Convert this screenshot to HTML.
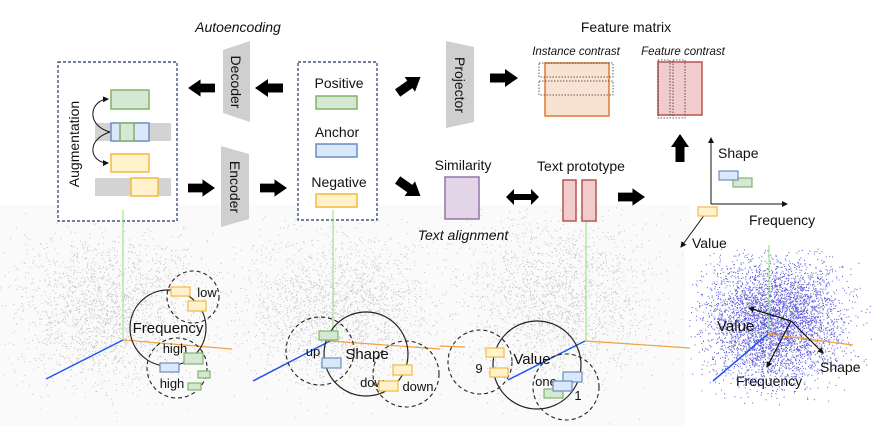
<!DOCTYPE html>
<html><head><meta charset="utf-8"><style>
html,body{margin:0;padding:0;background:#fff;}
svg{display:block;}
text{font-family:"Liberation Sans",sans-serif;fill:#111;}
.it{font-style:italic;}
</style></head><body>
<svg id="s" width="873" height="426" viewBox="0 0 873 426" xmlns="http://www.w3.org/2000/svg">
<defs>
<marker id="ah2" markerWidth="6" markerHeight="6" refX="5" refY="3" orient="auto" markerUnits="userSpaceOnUse"><path d="M0,0 L6,3 L0,6 z" fill="#111"/></marker>
<symbol id="bar" viewBox="0 0 28 18"><path d="M0,4.5 H15 V0 L28,9 L15,18 V13.5 H0 z" fill="#000"/></symbol>
</defs>
<rect x="0" y="205" width="690" height="221" fill="#fafafa"/>
<g id="dots"></g>
<rect x="685" y="245" width="188" height="181" fill="#fff"/>
<g id="bdots"></g>

<text x="238" y="32" font-size="14" text-anchor="middle" class="it">Autoencoding</text>
<rect x="58" y="62" width="119" height="159" fill="#fff" stroke="#1f3864" stroke-dasharray="3,2" stroke-width="1.2"/>
<text transform="translate(79,144) rotate(-90)" font-size="14" text-anchor="middle">Augmentation</text>
<rect x="111" y="90" width="38" height="19" fill="#d5e8d4" stroke="#82b366" stroke-width="1.5"/>
<rect x="95" y="123" width="76" height="18" fill="#d3d3d3"/>
<rect x="111" y="123" width="38" height="18" fill="#dae8fc" stroke="#6c8ebf" stroke-width="1.5"/>
<rect x="120" y="123" width="14" height="18" fill="#d5e8d4" stroke="#82b366" stroke-width="1.5"/>
<rect x="111" y="154" width="38" height="18" fill="#fff2cc" stroke="#f4b942" stroke-width="1.5"/>
<rect x="95" y="178" width="76" height="18" fill="#d3d3d3"/>
<rect x="131" y="178" width="27" height="18" fill="#fff2cc" stroke="#f4b942" stroke-width="1.5"/>
<path d="M110,132 C85,125 90,100 108,99" fill="none" stroke="#111" marker-end="url(#ah2)"/>
<path d="M110,132 C85,140 90,163 108,163" fill="none" stroke="#111" marker-end="url(#ah2)"/>

<polygon points="223,50 250,41 250,122 223,113" fill="#cfcfcf"/>
<text transform="translate(231,82) rotate(90)" font-size="14" text-anchor="middle">Decoder</text>
<polygon points="221,146 249,154 249,219 221,227" fill="#cfcfcf"/>
<text transform="translate(230,187) rotate(90)" font-size="14" text-anchor="middle">Encoder</text>
<use href="#bar" x="188" y="79" width="27" height="18" transform="rotate(180 201.5 88)"/>
<use href="#bar" x="255" y="79" width="28" height="18" transform="rotate(180 269 88)"/>
<use href="#bar" x="188" y="179" width="27" height="18"/>
<use href="#bar" x="260" y="179" width="27" height="18"/>

<rect x="298" y="62" width="79" height="158" fill="#fff" stroke="#1f3864" stroke-dasharray="3,2" stroke-width="1.2"/>
<text x="339" y="88" font-size="14" text-anchor="middle">Positive</text>
<rect x="316" y="96" width="41" height="13" fill="#d5e8d4" stroke="#82b366" stroke-width="1.5"/>
<text x="337" y="137" font-size="14" text-anchor="middle">Anchor</text>
<rect x="316" y="144" width="41" height="13" fill="#dae8fc" stroke="#6c8ebf" stroke-width="1.5"/>
<text x="339" y="187" font-size="14" text-anchor="middle">Negative</text>
<rect x="316" y="194" width="41" height="13" fill="#fff2cc" stroke="#f4b942" stroke-width="1.5"/>
<use href="#bar" x="395" y="76" width="28" height="18" transform="rotate(-35 409 85)"/>
<use href="#bar" x="395" y="179" width="28" height="18" transform="rotate(35 409 188)"/>

<polygon points="446,41 474,47 474,122 446,128" fill="#cfcfcf"/>
<text transform="translate(455,85) rotate(90)" font-size="14" text-anchor="middle">Projector</text>
<use href="#bar" x="490" y="69" width="28" height="18"/>
<text x="626" y="32" font-size="14" text-anchor="middle">Feature matrix</text>
<text x="576" y="55" font-size="11.5" text-anchor="middle" class="it">Instance contrast</text>
<text x="683" y="55" font-size="11.5" text-anchor="middle" class="it">Feature contrast</text>
<rect x="545" y="63" width="64" height="53" fill="#f8e3d3" stroke="#e07a35" stroke-width="1.5"/>
<rect x="539" y="63" width="74" height="14" fill="none" stroke="#333" stroke-dasharray="1.5,1.5" stroke-width="0.8"/>
<rect x="539" y="81" width="74" height="14" fill="none" stroke="#333" stroke-dasharray="1.5,1.5" stroke-width="0.8"/>
<rect x="658" y="62" width="44" height="53" fill="#f2cccc" stroke="#b85450" stroke-width="1.5"/>
<rect x="658" y="60" width="12" height="58" fill="none" stroke="#333" stroke-dasharray="1.5,1.5" stroke-width="0.8"/>
<rect x="673" y="60" width="12" height="58" fill="none" stroke="#333" stroke-dasharray="1.5,1.5" stroke-width="0.8"/>
<use href="#bar" x="666" y="137" width="28" height="22" transform="rotate(-90 680 148)"/>

<text x="463" y="170" font-size="14" text-anchor="middle">Similarity</text>
<rect x="445" y="177" width="34" height="42" fill="#e1d5e7" stroke="#9673a6" stroke-width="1.5"/>
<path d="M506,197 l8,-8 v5 h17 v-5 l8,8 l-8,8 v-5 h-17 v5 z" fill="#000"/>
<text x="581" y="171" font-size="14" text-anchor="middle">Text prototype</text>
<rect x="563" y="180" width="13" height="41" fill="#f2cccc" stroke="#b85450" stroke-width="1.5"/>
<rect x="582" y="180" width="14" height="41" fill="#f2cccc" stroke="#b85450" stroke-width="1.5"/>
<use href="#bar" x="618" y="188" width="27" height="18"/>
<text x="463" y="240" font-size="14" text-anchor="middle" class="it">Text alignment</text>

<line x1="711" y1="204" x2="711" y2="138" stroke="#111" marker-end="url(#ah2)"/>
<line x1="711" y1="204" x2="787" y2="204" stroke="#111" marker-end="url(#ah2)"/>
<line x1="708" y1="210" x2="681" y2="247" stroke="#111" marker-end="url(#ah2)"/>
<text x="718" y="158" font-size="14">Shape</text>
<rect x="733" y="178" width="19" height="9" fill="#d5e8d4" stroke="#82b366" stroke-width="1.2"/>
<rect x="719" y="171" width="19" height="9" fill="#dae8fc" stroke="#6c8ebf" stroke-width="1.2"/>
<rect x="698" y="207" width="19" height="9" fill="#fff2cc" stroke="#f4b942" stroke-width="1.2"/>
<text x="749" y="225" font-size="14">Frequency</text>
<text x="692" y="248" font-size="14">Value</text>

<line x1="123" y1="210" x2="123" y2="340" stroke="#8fe07a" stroke-width="1"/>
<line x1="123" y1="340" x2="46" y2="379" stroke="#2255ee" stroke-width="1.5"/>
<line x1="123" y1="340" x2="232" y2="349" stroke="#f0a040" stroke-width="1.2"/>
<circle cx="168" cy="328" r="38" fill="none" stroke="#222" stroke-width="1.2"/>
<circle cx="193" cy="297" r="26" fill="none" stroke="#222" stroke-dasharray="4,3" stroke-width="1.1"/>
<circle cx="177" cy="368" r="30" fill="none" stroke="#222" stroke-dasharray="4,3" stroke-width="1.1"/>
<text x="168" y="333" font-size="15" text-anchor="middle">Frequency</text>
<rect x="171" y="287" width="19" height="9" fill="#fff2cc" stroke="#f4b942" stroke-width="1.2"/>
<rect x="188" y="301" width="18" height="10" fill="#fff2cc" stroke="#f4b942" stroke-width="1.2"/>
<text x="207" y="297" font-size="13" text-anchor="middle">low</text>
<text x="175" y="353" font-size="13" text-anchor="middle">high</text>
<text x="172" y="388" font-size="13" text-anchor="middle">high</text>
<rect x="184" y="353" width="19" height="11" fill="#d5e8d4" stroke="#82b366" stroke-width="1.2"/>
<rect x="160" y="363" width="19" height="9" fill="#dae8fc" stroke="#6c8ebf" stroke-width="1.2"/>
<rect x="198" y="371" width="12" height="7" fill="#d5e8d4" stroke="#82b366" stroke-width="1.2"/>
<rect x="188" y="383" width="13" height="7" fill="#d5e8d4" stroke="#82b366" stroke-width="1.2"/>

<line x1="333" y1="210" x2="333" y2="332" stroke="#8fe07a" stroke-width="1"/>
<line x1="330" y1="341" x2="253" y2="381" stroke="#2255ee" stroke-width="1.5"/>
<line x1="330" y1="341" x2="440" y2="349" stroke="#f0a040" stroke-width="1.2"/>
<circle cx="366" cy="354" r="42" fill="none" stroke="#222" stroke-width="1.2"/>
<circle cx="320" cy="351" r="34" fill="none" stroke="#222" stroke-dasharray="4,3" stroke-width="1.1"/>
<circle cx="406" cy="374" r="33" fill="none" stroke="#222" stroke-dasharray="4,3" stroke-width="1.1"/>
<text x="367" y="359" font-size="15" text-anchor="middle">Shape</text>
<text x="313" y="356" font-size="13" text-anchor="middle">up</text>
<text x="418" y="391" font-size="13" text-anchor="middle">down</text>
<text x="372" y="387" font-size="13" text-anchor="middle">dow</text>
<rect x="319" y="331" width="19" height="9" fill="#d5e8d4" stroke="#82b366" stroke-width="1.2"/>
<rect x="322" y="358" width="19" height="10" fill="#dae8fc" stroke="#6c8ebf" stroke-width="1.2"/>
<rect x="393" y="365" width="19" height="10" fill="#fff2cc" stroke="#f4b942" stroke-width="1.2"/>
<rect x="379" y="381" width="19" height="10" fill="#fff2cc" stroke="#f4b942" stroke-width="1.2"/>

<line x1="586" y1="222" x2="586" y2="341" stroke="#8fe07a" stroke-width="1"/>
<line x1="585" y1="341" x2="508" y2="380" stroke="#2255ee" stroke-width="1.5"/>
<line x1="585" y1="341" x2="690" y2="348" stroke="#f0a040" stroke-width="1.2"/>
<line x1="440" y1="346" x2="465" y2="347" stroke="#f0a040" stroke-width="1.2"/>
<circle cx="537" cy="365" r="44" fill="none" stroke="#222" stroke-width="1.2"/>
<circle cx="480" cy="362" r="32" fill="none" stroke="#222" stroke-dasharray="4,3" stroke-width="1.1"/>
<circle cx="566" cy="387" r="33" fill="none" stroke="#222" stroke-dasharray="4,3" stroke-width="1.1"/>
<text x="532" y="364" font-size="15" text-anchor="middle">Value</text>
<text x="479" y="373" font-size="13" text-anchor="middle">9</text>
<text x="578" y="400" font-size="13" text-anchor="middle">1</text>
<text x="546" y="386" font-size="13" text-anchor="middle">one</text>
<rect x="486" y="348" width="18" height="9" fill="#fff2cc" stroke="#f4b942" stroke-width="1.2"/>
<rect x="490" y="368" width="18" height="9" fill="#fff2cc" stroke="#f4b942" stroke-width="1.2"/>
<rect x="544" y="389" width="19" height="9" fill="#d5e8d4" stroke="#82b366" stroke-width="1.2"/>
<rect x="563" y="372" width="19" height="10" fill="#dae8fc" stroke="#6c8ebf" stroke-width="1.2"/>
<rect x="553" y="381" width="19" height="10" fill="#dae8fc" stroke="#6c8ebf" stroke-width="1.2"/>

<line x1="769" y1="245" x2="769" y2="334" stroke="#8fe07a" stroke-width="1"/>
<line x1="768" y1="334" x2="713" y2="381" stroke="#2255ee" stroke-width="1.5"/>
<line x1="768" y1="334" x2="853" y2="345" stroke="#f0a040" stroke-width="1.2"/>
<line x1="791" y1="321" x2="749" y2="308" stroke="#111" stroke-width="1.2" marker-end="url(#ah2)"/>
<line x1="791" y1="321" x2="767" y2="367" stroke="#111" stroke-width="1.2" marker-end="url(#ah2)"/>
<line x1="791" y1="321" x2="823" y2="353" stroke="#111" stroke-width="1.2" marker-end="url(#ah2)"/>
<text x="717" y="331" font-size="15">Value</text>
<text x="736" y="386" font-size="14">Frequency</text>
<text x="820" y="372" font-size="14">Shape</text>
</svg>
<script>
(function(){
var s=12345;function r(){s=(s*1103515245+12345)%2147483648;return s/2147483648;}
function g(){return (r()+r()+r()+r()-2)*0.85;}
var NS="http://www.w3.org/2000/svg";
var d=document.getElementById("dots"),b=document.getElementById("bdots");
var frag=document.createDocumentFragment();
var cs=[[110,310,70,55],[340,310,70,55],[560,300,70,60]];
for(var c=0;c<3;c++){for(var i=0;i<2000;i++){var x=cs[c][0]+g()*cs[c][2]*1.4,y=cs[c][1]+g()*cs[c][3]*1.4;
if(y<207||y>424||x<0||x>688)continue;var e=document.createElementNS(NS,"rect");
e.setAttribute("x",x.toFixed(1));e.setAttribute("y",y.toFixed(1));e.setAttribute("width","1");e.setAttribute("height","1");e.setAttribute("fill","#c4c4c4");frag.appendChild(e);}}
d.appendChild(frag);
frag=document.createDocumentFragment();
for(var i=0;i<4500;i++){var x=775+g()*68,y=322+g()*62;if(y<248||x<688||y>405)continue;
var e=document.createElementNS(NS,"rect");e.setAttribute("x",x.toFixed(1));e.setAttribute("y",y.toFixed(1));e.setAttribute("width","1");e.setAttribute("height","1");e.setAttribute("fill","#5a5ad8");frag.appendChild(e);}
b.appendChild(frag);
})();
</script>
</body></html>
